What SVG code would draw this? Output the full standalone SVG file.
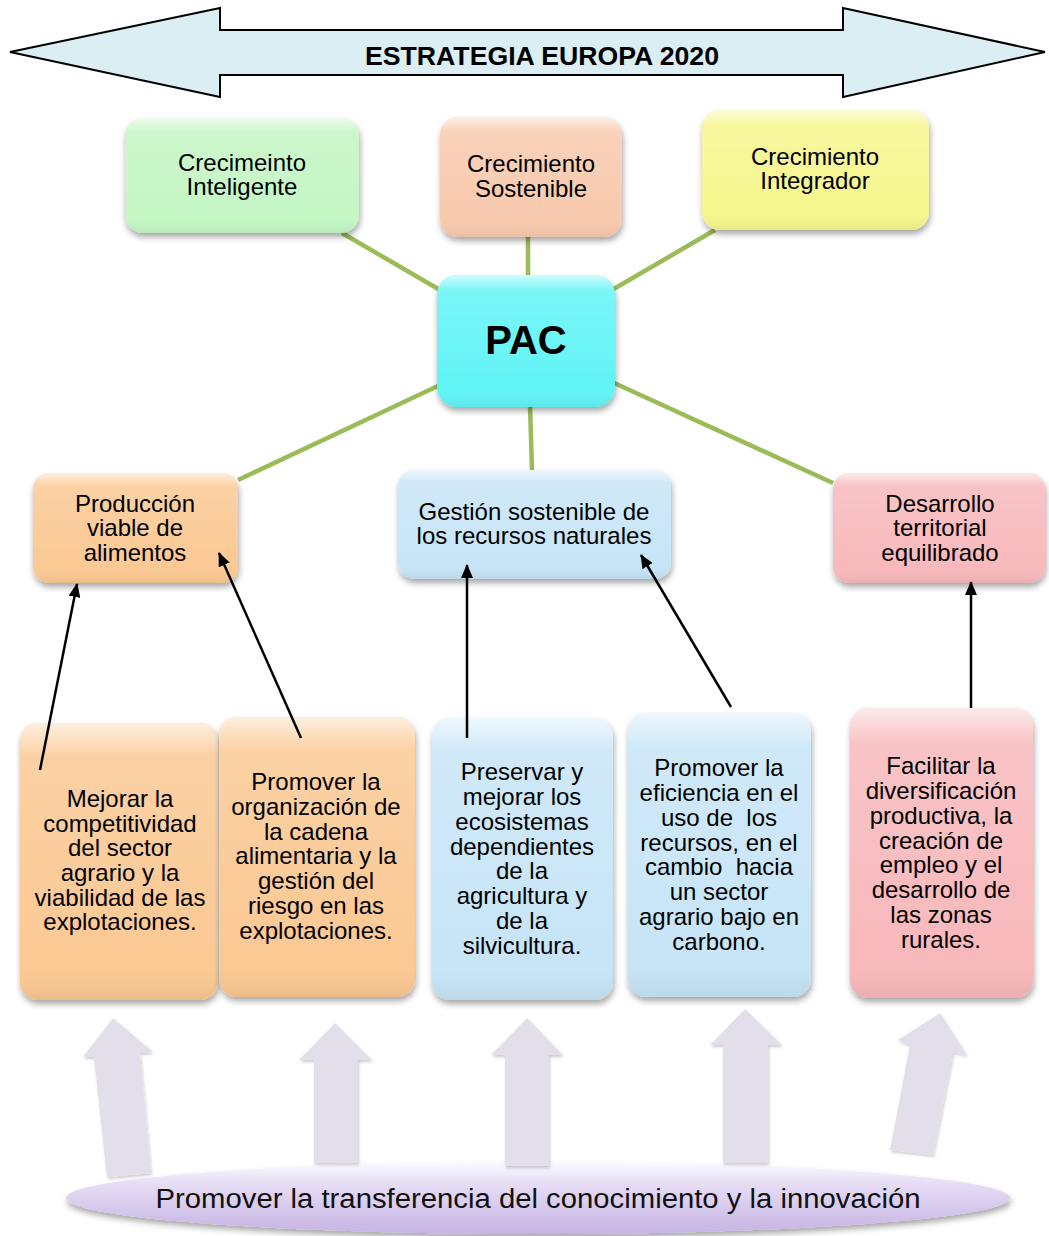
<svg xmlns="http://www.w3.org/2000/svg" width="1049" height="1236" viewBox="0 0 1049 1236">
<defs>
<style>
.t{font-family:"Liberation Sans",Arial,sans-serif;font-size:24px;fill:#000;text-anchor:middle}
.box{filter:url(#sh)}
.gl{fill:url(#gloss)}
.green{stroke:#9bbb59;stroke-width:4.5;fill:none}
.blk{stroke:#000;stroke-width:2.5;fill:none;marker-end:url(#ah)}
.fat{fill:#e2dfeb;filter:url(#sh2)}
</style>
<filter id="sh" x="-20%" y="-20%" width="140%" height="140%">
<feDropShadow dx="1" dy="4" stdDeviation="3" flood-color="#000" flood-opacity="0.35"/>
</filter>
<filter id="sh2" x="-30%" y="-20%" width="160%" height="140%">
<feDropShadow dx="1" dy="2" stdDeviation="1.5" flood-color="#000" flood-opacity="0.2"/>
</filter>
<linearGradient id="gloss" x1="0" y1="0" x2="0" y2="1">
<stop offset="0" stop-color="#fff" stop-opacity="0.7"/>
<stop offset="0.12" stop-color="#fff" stop-opacity="0.15"/>
<stop offset="0.85" stop-color="#fff" stop-opacity="0"/>
<stop offset="1" stop-color="#000" stop-opacity="0.06"/>
</linearGradient>
<linearGradient id="ell" x1="0" y1="0" x2="0" y2="1">
<stop offset="0" stop-color="#fbfaff"/>
<stop offset="0.3" stop-color="#e6ddf5"/>
<stop offset="1" stop-color="#c6b3e3"/>
</linearGradient>
<marker id="ah" viewBox="0 0 14 12" refX="13" refY="6" markerWidth="14" markerHeight="12" markerUnits="userSpaceOnUse" orient="auto">
<path d="M0,0 L14,6 L0,12 Z" fill="#000"/>
</marker>
</defs>
<rect width="1049" height="1236" fill="#fff"/>

<g id="estrategia">
<path d="M10,52 L220,8 L220,30 L843,30 L843,8 L1045,52 L843,97 L843,75 L220,75 L220,97 Z" fill="#dbeef4" stroke="#000" stroke-width="2"/>
<text x="542" y="65" font-family="'Liberation Sans',Arial,sans-serif" font-size="26" font-weight="bold" text-anchor="middle" textLength="354" lengthAdjust="spacingAndGlyphs">ESTRATEGIA EUROPA 2020</text>
</g>

<g id="connectors">
<line class="green" x1="342" y1="233" x2="440" y2="290"/>
<line class="green" x1="528" y1="237" x2="528" y2="276"/>
<line class="green" x1="715" y1="230" x2="612" y2="290"/>
<line class="green" x1="440" y1="385" x2="238" y2="480"/>
<line class="green" x1="530" y1="405" x2="532" y2="470"/>
<line class="green" x1="612" y1="382" x2="833" y2="483"/>
</g>

<g id="n-inteligente">
<rect class="box" x="125" y="118" width="234" height="115" rx="18" fill="#c4f6c4"/>
<rect class="gl" x="125" y="118" width="234" height="115" rx="18"/>
<text class="t" x="242" y="171">Crecimeinto<tspan x="242" y="195">Inteligente</tspan></text>
</g>
<g id="n-sostenible">
<rect class="box" x="440" y="117" width="182" height="120" rx="18" fill="#f8caae"/>
<rect class="gl" x="440" y="117" width="182" height="120" rx="18"/>
<text class="t" x="531" y="172">Crecimiento<tspan x="531" y="197">Sostenible</tspan></text>
</g>
<g id="n-integrador">
<rect class="box" x="702" y="110" width="227" height="120" rx="18" fill="#f6f68e"/>
<rect class="gl" x="702" y="110" width="227" height="120" rx="18"/>
<text class="t" x="815" y="165">Crecimiento<tspan x="815" y="189">Integrador</tspan></text>
</g>
<g id="n-pac">
<rect class="box" x="437" y="275" width="178" height="132" rx="20" fill="#62f4f6"/>
<rect class="gl" x="437" y="275" width="178" height="132" rx="20"/>
<text x="526" y="354" font-family="'Liberation Sans',Arial,sans-serif" font-size="40" font-weight="bold" text-anchor="middle">PAC</text>
</g>

<g id="n-produccion">
<rect class="box" x="33" y="473" width="205" height="110" rx="16" fill="#fbc994"/>
<rect class="gl" x="33" y="473" width="205" height="110" rx="16"/>
<text class="t" x="135" y="512">Producción<tspan x="135" y="536">viable de</tspan><tspan x="135" y="561">alimentos</tspan></text>
</g>
<g id="n-gestion">
<rect class="box" x="398" y="470" width="273" height="109" rx="16" fill="#c7e5f7"/>
<rect class="gl" x="398" y="470" width="273" height="109" rx="16"/>
<text class="t" x="534" y="520">Gestión sostenible de<tspan x="534" y="544">los recursos naturales</tspan></text>
</g>
<g id="n-desarrollo">
<rect class="box" x="833" y="473" width="212" height="110" rx="16" fill="#f8b9bc"/>
<rect class="gl" x="833" y="473" width="212" height="110" rx="16"/>
<text class="t" x="940" y="512">Desarrollo<tspan x="940" y="536">territorial</tspan><tspan x="940" y="561">equilibrado</tspan></text>
</g>

<g id="n-mejorar">
<rect class="box" x="20" y="723" width="198" height="277" rx="18" fill="#fbc994"/>
<rect class="gl" x="20" y="723" width="198" height="277" rx="18"/>
<text class="t" x="120" y="807">Mejorar la<tspan x="120" y="832">competitividad</tspan><tspan x="120" y="856">del sector</tspan><tspan x="120" y="881">agrario y la</tspan><tspan x="120" y="906">viabilidad de las</tspan><tspan x="120" y="930">explotaciones.</tspan></text>
</g>
<g id="n-organizacion">
<rect class="box" x="219" y="717" width="196" height="280" rx="18" fill="#fbc994"/>
<rect class="gl" x="219" y="717" width="196" height="280" rx="18"/>
<text class="t" x="316" y="790">Promover la<tspan x="316" y="815">organización de</tspan><tspan x="316" y="840">la cadena</tspan><tspan x="316" y="864">alimentaria y la</tspan><tspan x="316" y="889">gestión del</tspan><tspan x="316" y="914">riesgo en las</tspan><tspan x="316" y="939">explotaciones.</tspan></text>
</g>
<g id="n-preservar">
<rect class="box" x="432" y="718" width="181" height="282" rx="18" fill="#c7e5f7"/>
<rect class="gl" x="432" y="718" width="181" height="282" rx="18"/>
<text class="t" x="522" y="780">Preservar y<tspan x="522" y="805">mejorar los</tspan><tspan x="522" y="830">ecosistemas</tspan><tspan x="522" y="855">dependientes</tspan><tspan x="522" y="879">de la</tspan><tspan x="522" y="904">agricultura y</tspan><tspan x="522" y="929">de la</tspan><tspan x="522" y="954">silvicultura.</tspan></text>
</g>
<g id="n-eficiencia">
<rect class="box" x="628" y="713" width="183" height="284" rx="18" fill="#c7e5f7"/>
<rect class="gl" x="628" y="713" width="183" height="284" rx="18"/>
<text class="t" x="719" y="776" xml:space="preserve">Promover la<tspan x="719" y="801">eficiencia en el</tspan><tspan x="719" y="826">uso de  los</tspan><tspan x="719" y="851">recursos, en el</tspan><tspan x="719" y="875">cambio  hacia</tspan><tspan x="719" y="900">un sector</tspan><tspan x="719" y="925">agrario bajo en</tspan><tspan x="719" y="950">carbono.</tspan></text>
</g>
<g id="n-facilitar">
<rect class="box" x="850" y="708" width="183" height="290" rx="18" fill="#f8b9bc"/>
<rect class="gl" x="850" y="708" width="183" height="290" rx="18"/>
<text class="t" x="941" y="774">Facilitar la<tspan x="941" y="799">diversificación</tspan><tspan x="941" y="824">productiva, la</tspan><tspan x="941" y="849">creación de</tspan><tspan x="941" y="873">empleo y el</tspan><tspan x="941" y="898">desarrollo de</tspan><tspan x="941" y="923">las zonas</tspan><tspan x="941" y="948">rurales.</tspan></text>
</g>

<g id="n-transferencia">
<ellipse cx="538" cy="1198" rx="472" ry="36" fill="url(#ell)" filter="url(#sh)"/>
<text x="538" y="1208" font-family="'Liberation Sans',Arial,sans-serif" font-size="27" fill="#111" text-anchor="middle" textLength="765" lengthAdjust="spacingAndGlyphs">Promover la transferencia del conocimiento y la innovación</text>
</g>

<g id="arrows">
<line class="blk" x1="40" y1="770" x2="77" y2="584"/>
<line class="blk" x1="301" y1="738" x2="219" y2="553"/>
<line class="blk" x1="467" y1="738" x2="467" y2="565"/>
<line class="blk" x1="731" y1="707" x2="641" y2="555"/>
<line class="blk" x1="971" y1="708" x2="971" y2="582"/>
<polygon class="fat" points="113,1018 153,1052 140,1053 151,1173 107,1177 94,1057 83,1057"/>
<polygon class="fat" points="335,1023 372,1060 358,1060 358,1163 314,1163 314,1060 299,1060"/>
<polygon class="fat" points="527,1018 563,1055 549,1055 549,1166 505,1166 505,1055 491,1055"/>
<polygon class="fat" points="745,1009 782,1045 768,1045 768,1163 723,1163 723,1045 710,1045"/>
<polygon class="fat" points="940,1013 967,1055 953,1052 933,1155 890,1150 910,1045 898,1040"/>
</g>
</svg>
